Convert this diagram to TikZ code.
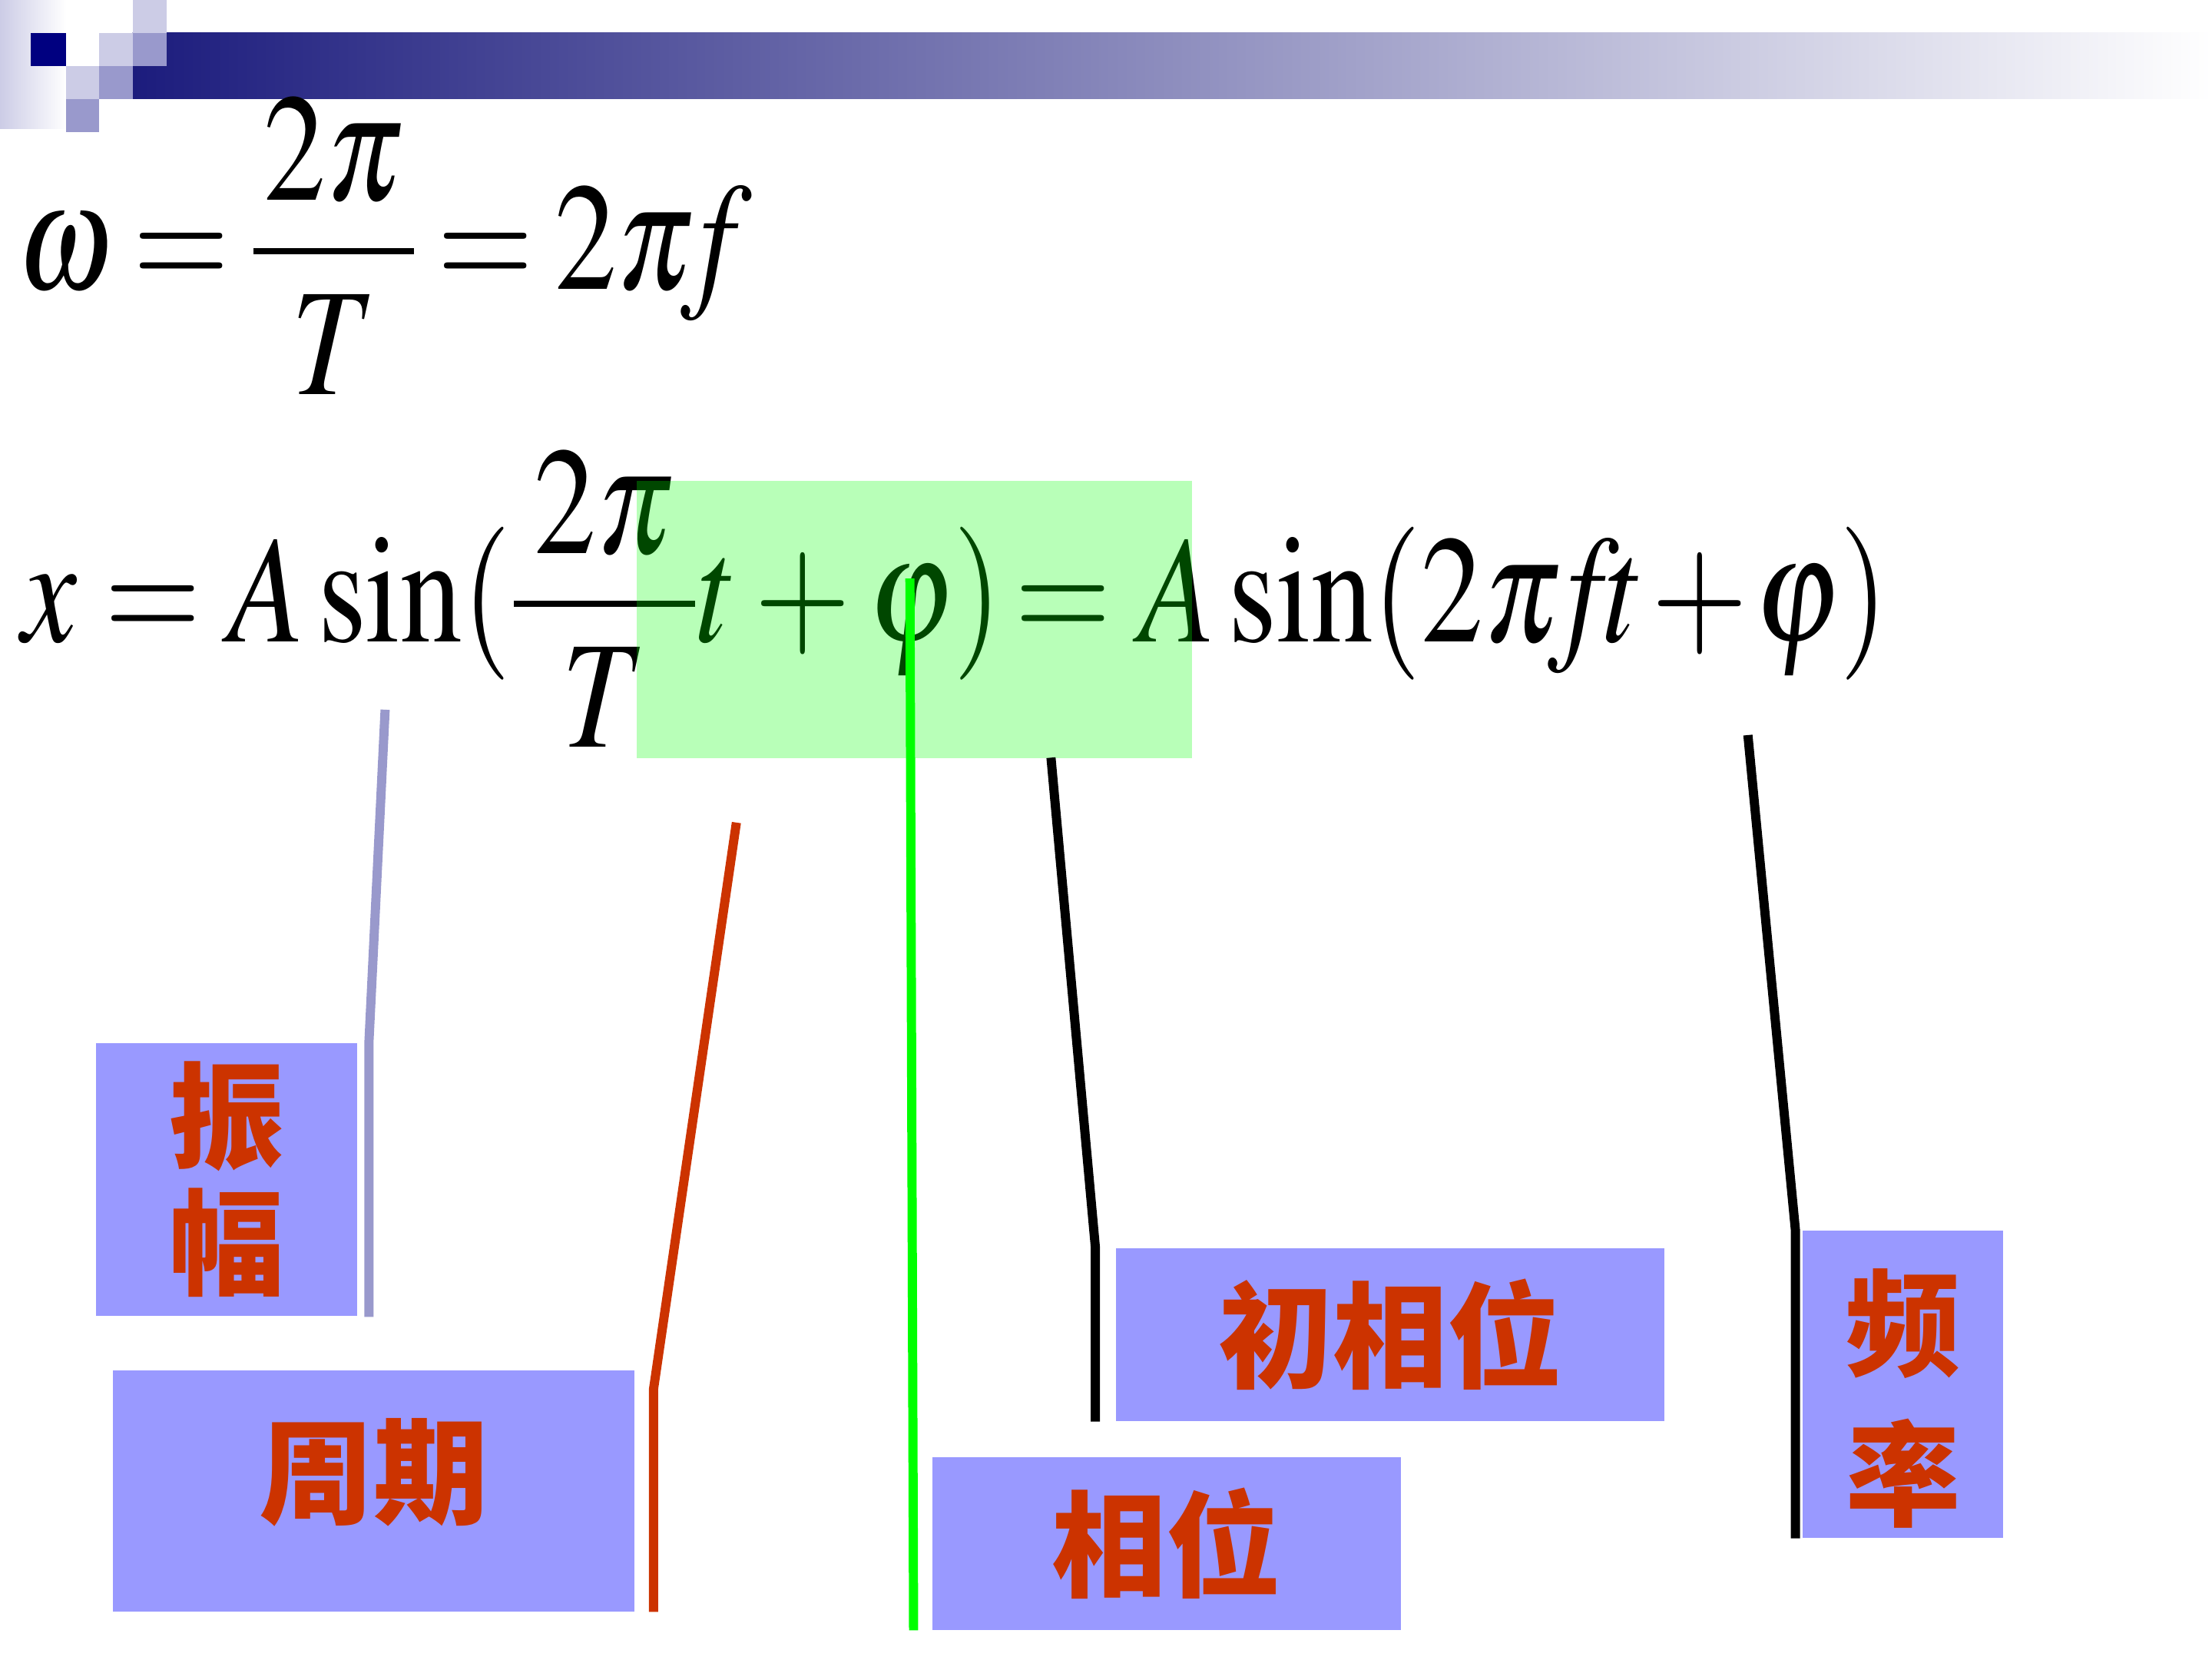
\documentclass[tikz,border=0pt]{standalone}
\usepackage{amsmath}
\usepackage{graphicx}
\usepackage{mathptmx}
\usepackage[no-math]{fontspec}
\newfontfamily\cjk{Noto Sans CJK SC}
\definecolor{boxblue}{RGB}{153,153,255}
\definecolor{cnred}{RGB}{204,51,0}
\definecolor{lineblue}{RGB}{153,153,204}
\definecolor{pale}{RGB}{204,204,230}
\definecolor{navy}{RGB}{0,0,128}
\definecolor{barnavy}{RGB}{28,28,125}
\tikzset{formula/.style={anchor=base west, inner sep=0, font=\fontsize{50}{56}\selectfont}}
\tikzset{term-box/.style={fill=boxblue, text=cnred, inner sep=0, align=center, font=\cjk\bfseries\fontsize{37.5}{41.4}\selectfont}}
\tikzset{hilite/.style={fill=green, fill opacity=0.28, inner sep=0}}
\tikzset{pointer/.style={line width=3pt}}
\newcommand{\narrow}[1]{\scalebox{0.81}[1]{#1}}
\newcommand{\nume}[1]{\mkern#1mu\raisebox{-0.17cm}[\height][0pt]{$2\pi$}\mkern#1mu}

\begin{document}
\begin{tikzpicture}[x=0.0162cm, y=-0.0162cm]
      \useasboundingbox (0,0) rectangle (1568,1176);

      % title bar
      \shade[left color=pale, right color=white] (0,0) rectangle (47,91);
      \shade[left color=barnavy, right color=white] (94,23.4) rectangle (1568,70.2);
      \fill[navy] (22,23.4) rectangle (47,46.8);
      \fill[pale] (70.2,23.4) rectangle (94,46.8);
      \fill[pale] (94,0) rectangle (118,23.4);
      \fill[lineblue] (94,23.4) rectangle (118,46.8);
      \fill[pale] (47,46.8) rectangle (70.2,70.2);
      \fill[lineblue] (70.2,46.8) rectangle (94,70.2);
      \fill[lineblue] (47,70.2) rectangle (70.2,93.6);

      \node[formula] (w) at (12,205) {\narrow{$\thickmuskip=3mu \omega=\dfrac{\nume{1.5}}{T}=2\pi\!f$}};
      \node[formula] (x) at (15,455) {\narrow{$x=A\sin(\dfrac{\nume{3}}{T}t+\varphi)\mkern-2mu=A\sin(2\pi\!f\!t\mkern1mu{+}\mkern1mu\varphi)$}};
      \node[hilite, minimum width=6.38cm, minimum height=3.18cm] (H) at (648,439) {};

      \node[term-box, minimum width=3.00cm, minimum height=3.14cm] (A) at (160.5,836) {振\\幅};
      \node[term-box, minimum width=5.99cm, minimum height=2.77cm] (T) at (265,1056.5) {\raisebox{0.54cm}{周期}};
      \node[term-box, minimum width=6.30cm, minimum height=1.98cm] (I) at (985.5,946) {初相位};
      \node[term-box, minimum width=5.38cm, minimum height=1.98cm] (P) at (827,1094) {相位};
      \node[term-box, minimum width=2.30cm, minimum height=3.53cm, font=\cjk\bfseries\fontsize{37.5}{49.3}\selectfont] (F) at (1349,981) {\raisebox{-0.32cm}[\height][\depth]{\begin{tabular}{@{}c@{}}频\\率\end{tabular}}};

      \coordinate (a1) at (273,503);
      \coordinate (t1) at (522,583);
      \coordinate (p1) at (645,410);
      \coordinate (i1) at (745,537);
      \coordinate (f1) at (1239,521);

      \draw[pointer, lineblue] (a1) -- ([xshift=0.13cm]A.north east) -- ([xshift=0.13cm]A.south east);
      \draw[pointer, cnred] (t1) -- ([xshift=0.21cm, yshift=-0.23cm]T.north east) -- ([xshift=0.21cm]T.south east);
      \draw[pointer, green] (p1) -- ([xshift=-0.21cm]P.south west);
      \draw[pointer] (i1) -- ([xshift=-0.23cm]I.north west) -- ([xshift=-0.23cm]I.south west);
      \draw[pointer] (f1) -- ([xshift=-0.08cm]F.north west) -- ([xshift=-0.08cm]F.south west);
\end{tikzpicture}
\end{document}
